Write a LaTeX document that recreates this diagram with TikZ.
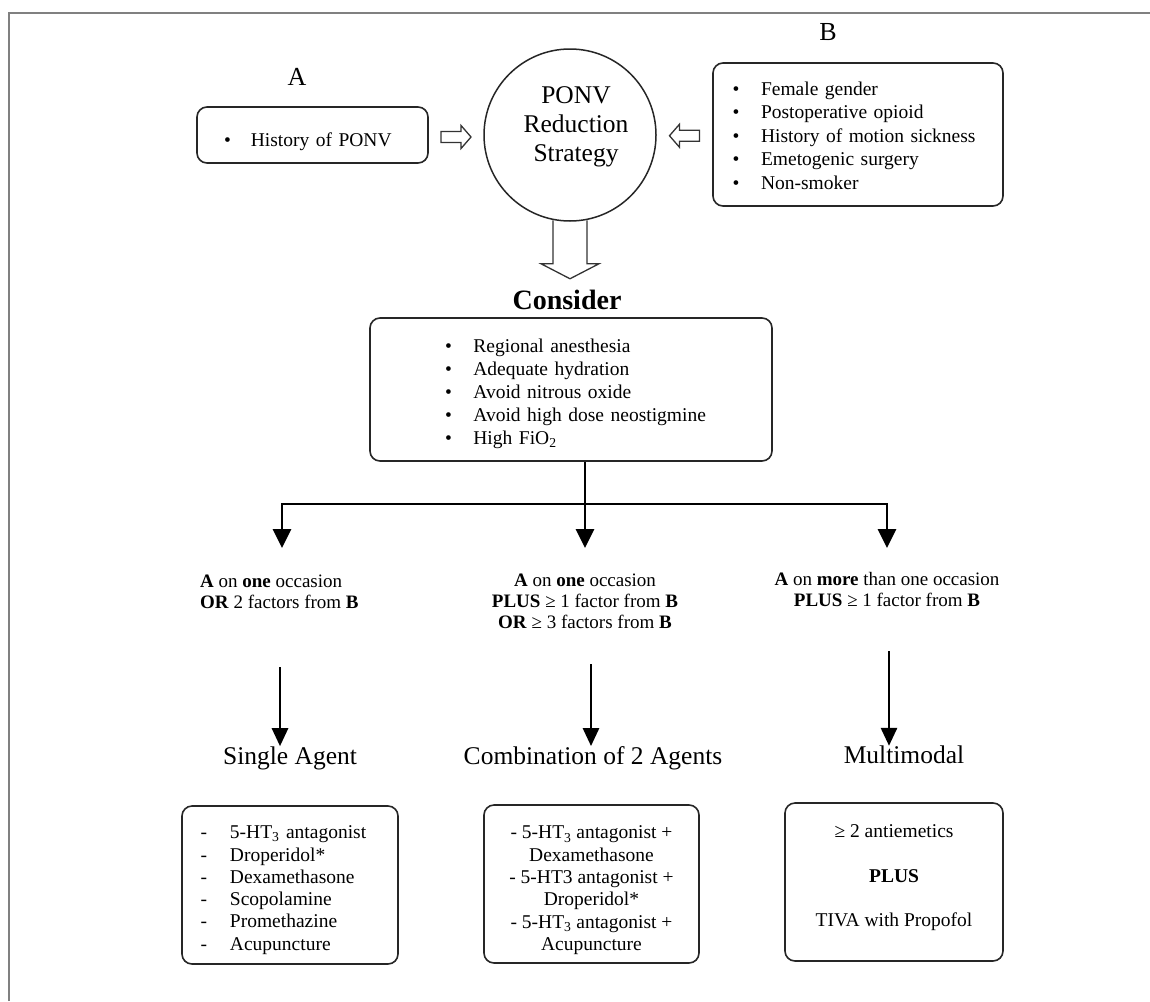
\documentclass[tikz,border=0pt]{standalone}
\usepackage{fontspec}
\setmainfont{Liberation Serif}
\usetikzlibrary{calc,arrows.meta}
\begin{document}
\begin{tikzpicture}[x=1pt,y=-1pt,
 box/.style={draw=black!85,line width=1.6pt,rounded corners=10pt},
 lbox/.style={box,align=left},
 body/.style={font=\fontsize{19.5}{23}\selectfont},
 bodyB/.style={font=\fontsize{19.5}{23.5}\selectfont},
 bodyb/.style={font=\fontsize{19.5}{22.3}\selectfont},
 cond/.style={font=\fontsize{19}{21}\selectfont,inner sep=0pt},
 headlbl/.style={font=\fontsize{25.5}{29}\selectfont,inner sep=0pt},
 letter/.style={font=\fontsize{26}{30}\selectfont,inner sep=0pt},
 arr/.style={line width=2.8pt,-{Triangle[length=19pt,width=18pt]}},
 arrs/.style={line width=2.8pt,-{Triangle[length=18pt,width=16pt]}},
 trunk/.style={line width=2.8pt},
 hol/.style={draw=black!80,line width=1.3pt,line join=miter},
 frame/.style={draw=black!50,line width=2pt}
]
\useasboundingbox (0,0) rectangle (1150,1001);
\draw[frame] (8.5,1001) -- (8.5,13) -- (1150,13);

% top row
\node[letter] (lA) at (297,77) {A};
\node[letter] (lB) at (828,32) {B};
\node[lbox,body,inner xsep=27pt,text width=177pt,minimum height=56pt] (boxA) at (312.5,135)
 {\noindent\begin{tabular}{@{}l@{\hspace{20pt}}l@{}}\rule{0pt}{30pt}\textbullet & History of PONV\end{tabular}};
\node[circle,draw=black!85,line width=1.5pt,minimum size=172pt,inner sep=0pt] (ponv) at (570,135) {};
\node[align=center,inner sep=0pt,font=\fontsize{25.5}{29}\selectfont] (ptxt) at (576,127) {PONV\\Reduction\\Strategy};
\node[lbox,bodyB,inner xsep=19.6pt,text width=250.8pt,minimum height=143pt] (boxB) at (858,134.5)
 {\noindent\begin{tabular}{@{}l@{\hspace{21.6pt}}l@{}}
 \rule{0pt}{22.5pt}\textbullet & Female gender\\
 \textbullet & Postoperative opioid\\
 \textbullet & History of motion sickness\\
 \textbullet & Emetogenic surgery\\
 \textbullet & Non-smoker
 \end{tabular}};

% hollow arrows
\coordinate (ha) at ($(boxA.east)!0.5!(ponv.west)+(0,2)$);
\coordinate (hb) at ($(ponv.east)!0.5!(boxB.west)+(0,1)$);
\begin{scope}[shift={(ha)}]
 \draw[hol] (-15,-5.5) -- (5,-5.5) -- (5,-11.5) -- (15,0) -- (5,11.5) -- (5,5.5) -- (-15,5.5) -- cycle;
\end{scope}
\begin{scope}[shift={(hb)},xscale=-1]
 \draw[hol] (-15,-5.5) -- (5,-5.5) -- (5,-11.5) -- (15,0) -- (5,11.5) -- (5,5.5) -- (-15,5.5) -- cycle;
\end{scope}
\draw[hol] ($(ponv.south)+(-17,-1.5)$) -- ($(ponv.south)+(-17,42)$) -- ($(ponv.south)+(-29,42)$)
 -- ($(ponv.south)+(0,57)$) -- ($(ponv.south)+(29,42)$) -- ($(ponv.south)+(17,42)$) -- ($(ponv.south)+(17,-1.5)$);

% consider
\node[font=\fontsize{28}{30}\selectfont\bfseries,inner sep=0pt] (cons) at (567,300) {Consider};
\node[lbox,body,inner xsep=75pt,text width=252pt,minimum height=143pt] (cbox) at (571,389.5)
 {\noindent\begin{tabular}{@{}l@{\hspace{21.6pt}}l@{}}
 \rule{0pt}{24.1pt}\textbullet & Regional anesthesia\\
 \textbullet & Adequate hydration\\
 \textbullet & Avoid nitrous oxide\\
 \textbullet & Avoid high dose neostigmine\\
 \textbullet & High FiO\textsubscript{2}
 \end{tabular}};

% branching
\coordinate (split) at (585,504);
\coordinate (t1) at (282,548);
\coordinate (t2) at (585,548);
\coordinate (t3) at (887,548);
\draw[trunk] (cbox.south -| split) -- (split);
\draw[arr] (split) -| (t1);
\draw[arr] (split) -- (t2);
\draw[arr] (split) -| (t3);

% conditions
\node[cond,anchor=west,align=left] (c1) at (200,591.5)
 {\textbf{A} on \textbf{one} occasion\\\textbf{OR} 2 factors from \textbf{B}};
\node[cond,align=center] (c2) at (585,601.5)
 {\textbf{A} on \textbf{one} occasion\\\textbf{PLUS} ≥ 1 factor from \textbf{B}\\\textbf{OR} ≥ 3 factors from \textbf{B}};
\node[cond,align=center] (c3) at (887,589)
 {\textbf{A} on \textbf{more} than one occasion\\\textbf{PLUS} ≥ 1 factor from \textbf{B}};

% headings
\node[headlbl] (sa) at (290,758) {Single Agent};
\node[headlbl] (cb) at (593,758) {Combination of 2 Agents};
\node[headlbl] (mm) at (904,755) {Multimodal};

\coordinate (s1) at (280,667);
\coordinate (s2) at (591,664);
\coordinate (s3) at (889,651);
\draw[arrs] (s1) -- (s1 |- sa.north) ;
\draw[arrs] (s2) -- (s2 |- cb.north) ;
\draw[arrs] (s3) -- (s3 |- mm.north) ;

% bottom boxes
\node[lbox,bodyb,inner xsep=18.7pt,text width=178.6pt,minimum height=158pt] (sbox) at (290,885)
 {\noindent\begin{tabular}{@{}l@{\hspace{22.8pt}}l@{}}
 \rule{0pt}{25.7pt}- & 5-HT\textsubscript{3} antagonist\\
 - & Droperidol*\\
 - & Dexamethasone\\
 - & Scopolamine\\
 - & Promethazine\\
 - & Acupuncture
 \end{tabular}};
\node[box,bodyb,align=center,minimum width=215pt,minimum height=158pt] (mbox) at (591.5,884)
 {\rule{0pt}{25.5pt}- 5-HT\textsubscript{3} antagonist +\\Dexamethasone\\- 5-HT3 antagonist +\\Droperidol*\\- 5-HT\textsubscript{3} antagonist +\\Acupuncture};
\node[box,bodyb,align=center,minimum width=218pt,minimum height=158pt] (rbox) at (894,882)
 {\rule{0pt}{29.5pt}≥ 2 antiemetics\\[22pt]\textbf{PLUS}\\[22pt]TIVA with Propofol\\ \strut};
\end{tikzpicture}
\end{document}
